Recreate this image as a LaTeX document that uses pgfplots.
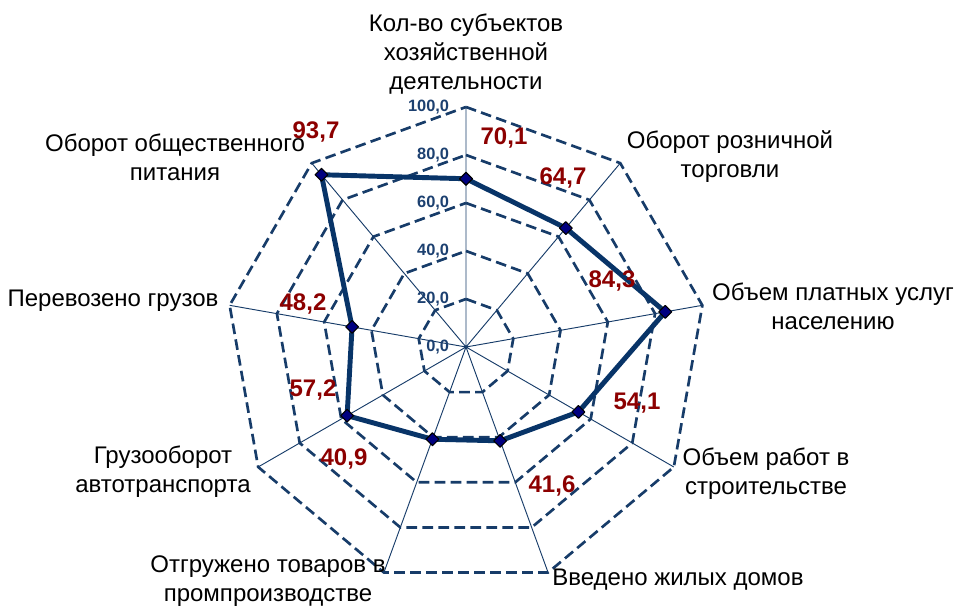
\documentclass[border=0pt]{standalone}
\usepackage{fontspec}
\setmainfont{Liberation Sans}
\usepackage{pgfplots}
\usepgfplotslibrary{polar}
\pgfplotsset{compat=1.18}
\definecolor{gridblue}{RGB}{23,60,105}
\definecolor{lineblue}{RGB}{8,52,104}
\definecolor{mk}{RGB}{0,0,128}
\definecolor{lbl}{RGB}{140,0,0}
\definecolor{tickc}{RGB}{28,64,112}
\tikzset{tl/.style={anchor=east, xshift=-11.5pt, text=tickc, font=\fontsize{12.3}{14}\selectfont\bfseries, inner sep=1pt}}
\begin{document}
\begin{tikzpicture}
\begin{polaraxis}[
  hide axis, scale only axis, width=360pt, height=360pt,
  ymin=0, ymax=100, xmin=0, xmax=360, clip=false,
  ring/.style={gridblue, line width=2pt, dash pattern=on 8pt off 4pt, mark=none, line join=miter},
]
\addplot[ring] coordinates {(90,20)(50,20)(10,20)(330,20)(290,20)(250,20)(210,20)(170,20)(130,20)(90,20)};
\addplot[ring] coordinates {(90,40)(50,40)(10,40)(330,40)(290,40)(250,40)(210,40)(170,40)(130,40)(90,40)};
\addplot[ring] coordinates {(90,60)(50,60)(10,60)(330,60)(290,60)(250,60)(210,60)(170,60)(130,60)(90,60)};
\addplot[ring] coordinates {(90,80)(50,80)(10,80)(330,80)(290,80)(250,80)(210,80)(170,80)(130,80)(90,80)};
\addplot[ring] coordinates {(90,100)(50,100)(10,100)(330,100)(290,100)(250,100)(210,100)(170,100)(130,100)(90,100)};
\addplot[gridblue, line width=0.7pt, mark=none] coordinates {(90,100)(90,0)(50,100)(50,0)(10,100)(10,0)(330,100)(330,0)(290,100)(290,0)(250,100)(250,0)(210,100)(210,0)(170,100)(170,0)(130,100)(130,0)};
\addplot[lineblue, line width=3.7pt, line join=round, mark=square*, mark size=3.4pt,
  mark options={fill=mk, draw=black, line width=0.8pt, solid, rotate=45}]
  coordinates {(90,70.1)(50,64.7)(10,84.3)(330,54.1)(290,41.6)(250,40.9)(210,57.2)(170,48.2)(130,93.7)(90,70.1)};
\node[tl] at (axis cs:90,0) {0,0};
\node[tl] at (axis cs:90,20) {20,0};
\node[tl] at (axis cs:90,40) {40,0};
\node[tl] at (axis cs:90,60) {60,0};
\node[tl] at (axis cs:90,80) {80,0};
\node[tl] at (axis cs:90,100) {100,0};
\coordinate (c) at (axis cs:0,0);
\end{polaraxis}
\begin{scope}[shift={(c)}, x=0.75pt, y=0.75pt]
\begin{scope}[every node/.style={align=center, font=\fontsize{18}{21.75}\selectfont, inner sep=0pt}]
\node at (0,293) {Кол-во субъектов\\хозяйственной\\деятельности};
\node at (264,190) {Оборот розничной\\торговли};
\node at (367,41) {Объем платных услуг\\населению};
\node at (300,-127) {Объем работ в\\строительстве};
\node at (212,-233) {Введено жилых домов};
\node at (-198,-234) {Отгружено товаров в\\промпроизводстве};
\node at (-303,-125) {Грузооборот\\автотранспорта};
\node at (-353,46) {Перевозено грузов};
\node at (-291,190) {Оборот общественного\\питания};
\end{scope}
\begin{scope}[every node/.style={text=lbl, font=\fontsize{18}{21}\selectfont\bfseries, inner sep=0pt}]
\node at (38,209) {70,1};
\node at (97,169) {64,7};
\node at (146,66) {84,3};
\node at (171,-56) {54,1};
\node at (86,-139) {41,6};
\node at (-122,-112) {40,9};
\node at (-153,-43) {57,2};
\node at (-163,43) {48,2};
\node at (-150,215) {93,7};
\end{scope}
\pgfresetboundingbox
\path[use as bounding box] (-466,347) rectangle (491,-259);
\end{scope}
\end{tikzpicture}
\end{document}
